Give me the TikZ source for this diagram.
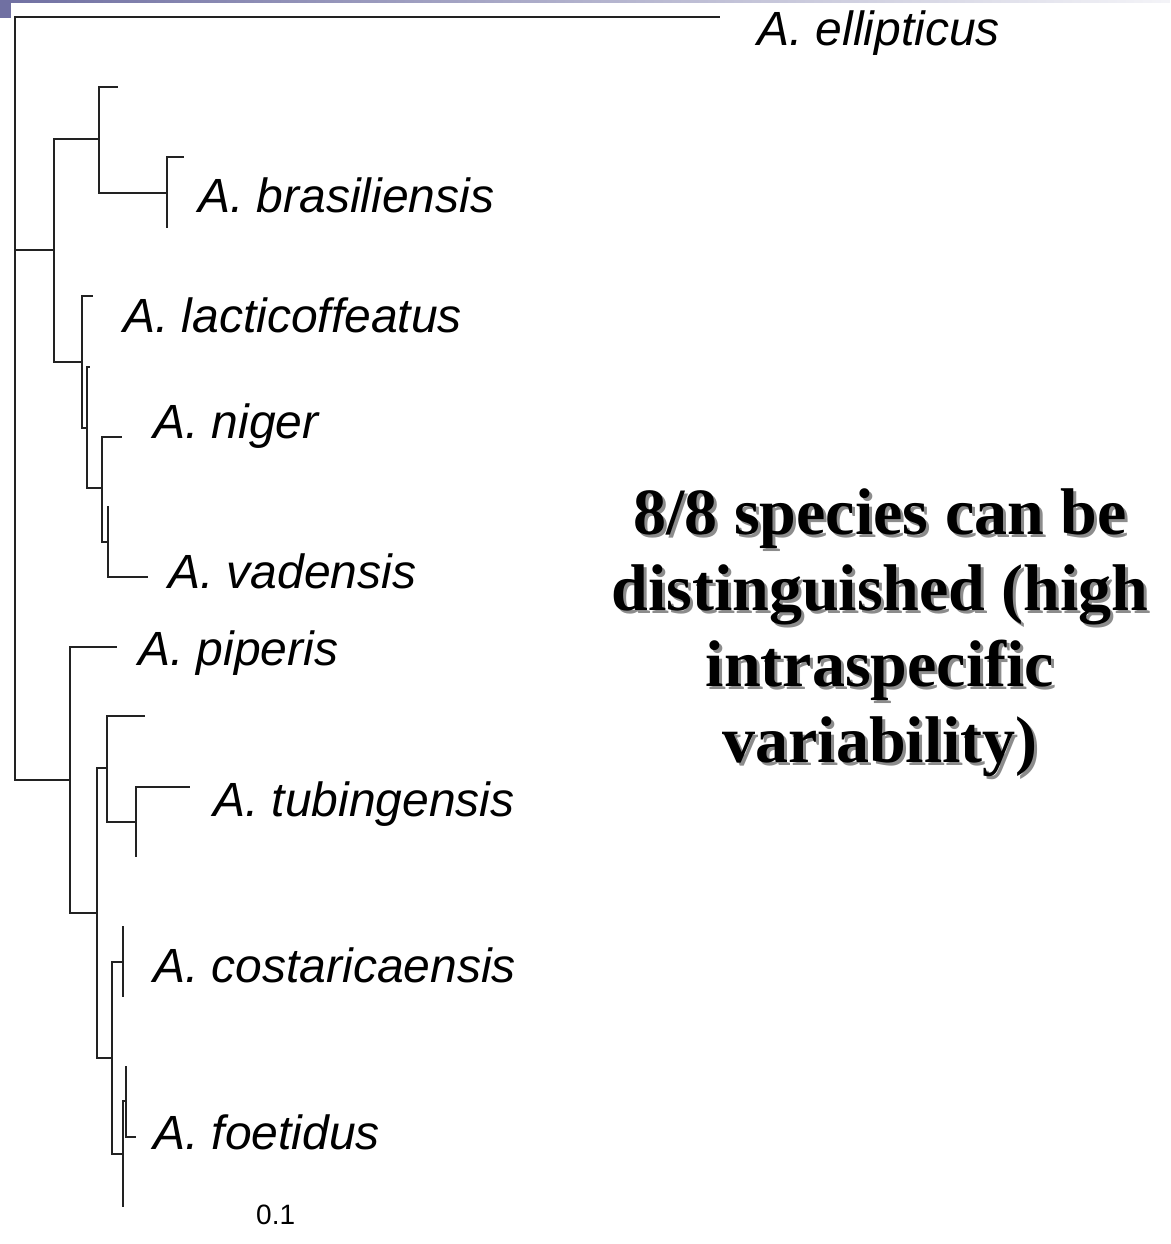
\documentclass[tikz,border=0pt]{standalone}
\usepackage{fontspec}
\setmainfont{Liberation Serif}
\setsansfont{Liberation Sans}
\definecolor{barblue}{RGB}{112,112,162}
\definecolor{treeline}{RGB}{34,34,34}
\tikzset{
  branch/.style={draw=treeline, line width=1.8pt},
  taxon/.style={anchor=base west, inner sep=0pt, font=\sffamily\itshape\fontsize{48}{58}\selectfont},
  note/.style={align=center, anchor=base, inner sep=0pt, font=\bfseries\fontsize{66}{76}\selectfont},
}
\begin{document}
\begin{tikzpicture}[x=1pt, y=-1pt]
    \useasboundingbox (0,0) rectangle (1170,1244);
    % 顶部色条
    \shade[left color=barblue, right color=barblue!8] (0,0) rectangle (1170,3);
    \fill[barblue] (0,0) rectangle (11,18);

    % 树的结点与末端
    \coordinate (root) at (15,250);
    \coordinate (ell)  at (720,17);
    \coordinate (c1)   at (54,250);
    \coordinate (c1a)  at (99,139);
    \coordinate (bra0) at (118,87);
    \coordinate (c1c)  at (167,193);
    \coordinate (bra1) at (184,157);
    \coordinate (bra2) at (167,228);
    \coordinate (c1b)  at (82,362);
    \coordinate (lac)  at (93,296);
    \coordinate (n2)   at (87,428);
    \coordinate (lac2) at (90,367);
    \coordinate (n3)   at (102,488);
    \coordinate (nig)  at (122,437);
    \coordinate (n4)   at (108,542);
    \coordinate (vad1) at (108,506);
    \coordinate (vad2) at (148,577);
    \coordinate (c2)   at (70,780);
    \coordinate (pip)  at (117,647);
    \coordinate (m1)   at (97,913);
    \coordinate (m2)   at (107,768);
    \coordinate (tub0) at (145,716);
    \coordinate (m4)   at (136,822);
    \coordinate (tub1) at (190,787);
    \coordinate (tub2) at (136,857);
    \coordinate (m3)   at (112,1058);
    \coordinate (m5)   at (123,962);
    \coordinate (cos1) at (123,926);
    \coordinate (cos2) at (123,997);
    \coordinate (m6)   at (123,1154);
    \coordinate (m7)   at (126,1101);
    \coordinate (foe1) at (126,1066);
    \coordinate (foe2) at (136,1137);
    \coordinate (foe3) at (123,1207);

    % 枝
    \foreach \p/\c in {root/ell, root/c1, root/c2, c1/c1a, c1/c1b, c1a/bra0, c1a/c1c,
        c1c/bra1, c1c/bra2, c1b/lac, c1b/n2, n2/lac2, n2/n3, n3/nig, n3/n4, n4/vad1,
        n4/vad2, c2/pip, c2/m1, m1/m2, m1/m3, m2/tub0, m2/m4, m4/tub1, m4/tub2,
        m3/m5, m3/m6, m5/cos1, m5/cos2, m6/m7, m6/foe3, m7/foe1, m7/foe2}
        \draw[branch] (\p) |- (\c);

    % 物种名
    \node[taxon] (l-ell) at (757,46)   {A. ellipticus};
    \node[taxon] (l-bra) at (198,212)  {A. brasiliensis};
    \node[taxon] (l-lac) at (123,332)  {A. lacticoffeatus};
    \node[taxon] (l-nig) at (153,438)  {A. niger};
    \node[taxon] (l-vad) at (168,588)  {A. vadensis};
    \node[taxon] (l-pip) at (138,665)  {A. piperis};
    \node[taxon] (l-tub) at (213,816)  {A. tubingensis};
    \node[taxon] (l-cos) at (153,982)  {A. costaricaensis};
    \node[taxon] (l-foe) at (153,1149) {A. foetidus};
    \node[anchor=base west, inner sep=0pt, font=\sffamily\fontsize{28}{32}\selectfont]
        (scale) at (256,1224) {0.1};

    % 说明文字（带阴影）
    \node[note, text=black!45] (note-shadow) at (883,765)
        {8/8 species can be\\distinguished (high\\intraspecific\\variability)};
    \node[note] (note) at (880,762)
        {8/8 species can be\\distinguished (high\\intraspecific\\variability)};
\end{tikzpicture}
\end{document}
